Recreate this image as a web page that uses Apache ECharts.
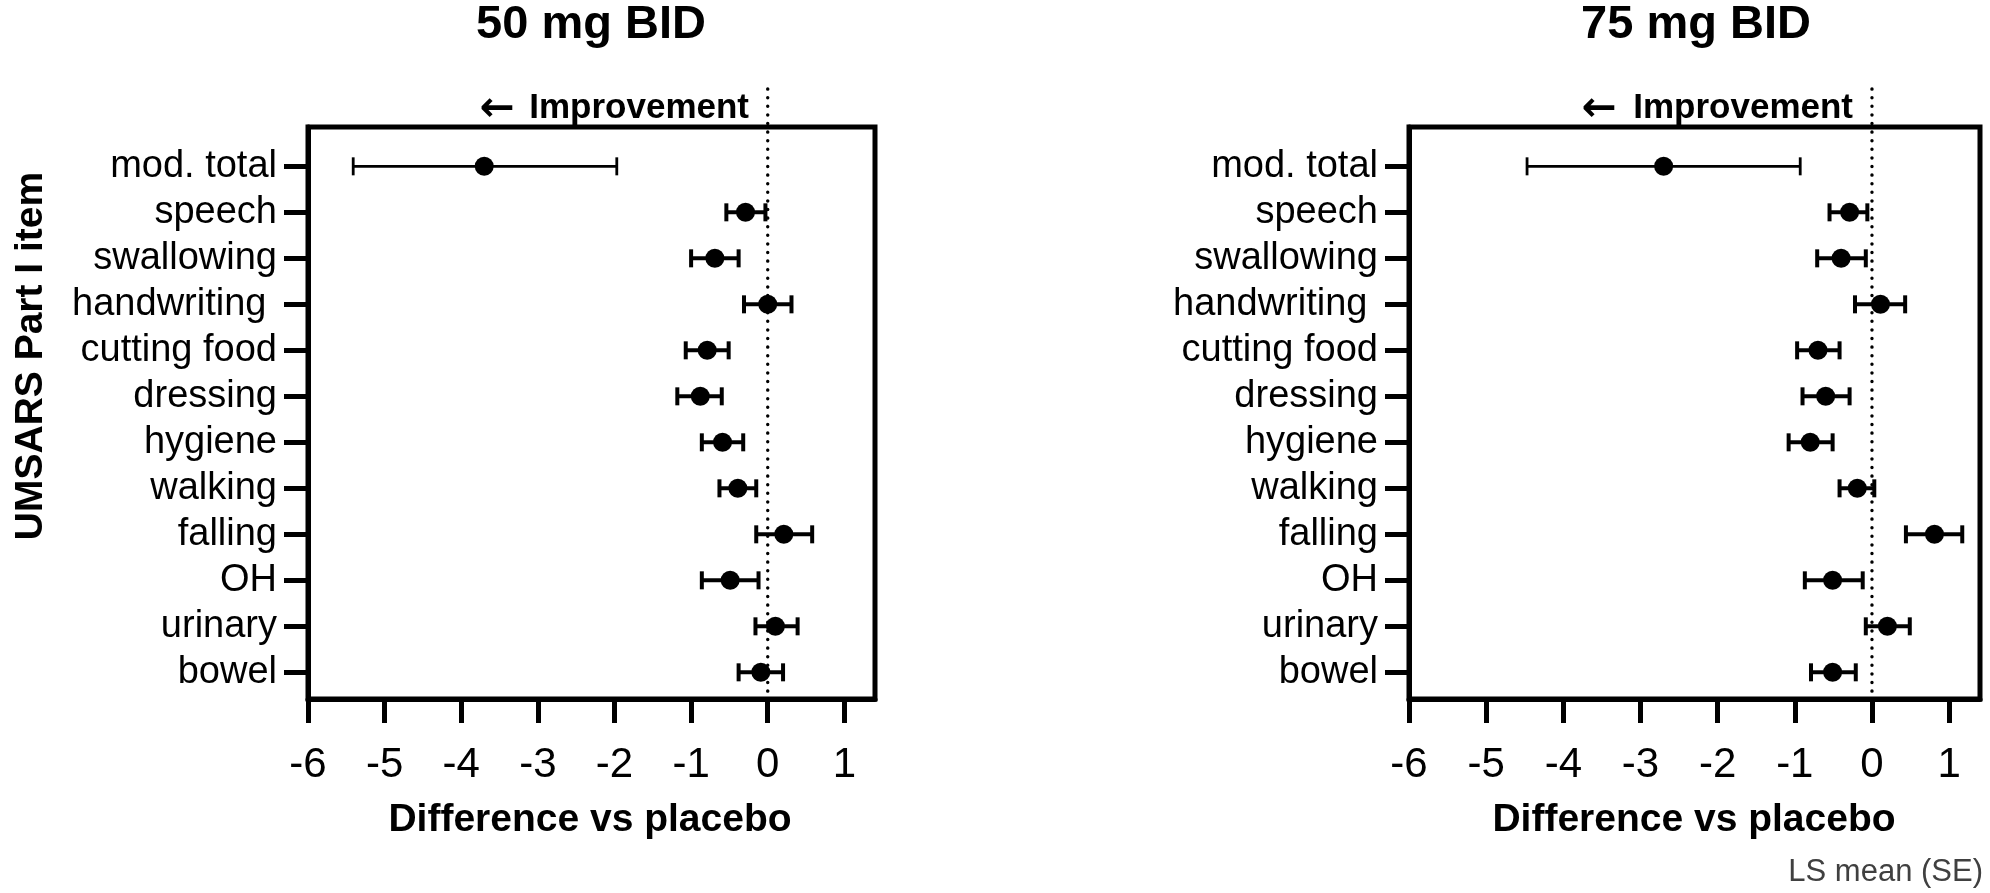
<!DOCTYPE html>
<html>
<head>
<meta charset="utf-8">
<script src="https://cdn.jsdelivr.net/npm/echarts@6/dist/echarts.min.js"></script>
<style>
html,body{margin:0;padding:0;background:#fff;}
#chart{width:1990px;height:893px;}
</style>
</head>
<body>
<div id="chart"></div>
<script>
// ---- data ----
const items = ['mod. total','speech','swallowing','handwriting ','cutting food','dressing','hygiene','walking','falling','OH','urinary','bowel'];
const mean50 = [-3.70,-0.29,-0.69,0.00,-0.79,-0.88,-0.59,-0.39,0.21,-0.49,0.10,-0.09];
const low50  = [-5.41,-0.54,-1.00,-0.31,-1.07,-1.18,-0.86,-0.63,-0.15,-0.86,-0.16,-0.38];
const high50 = [-1.97,-0.03,-0.38,0.31,-0.51,-0.60,-0.32,-0.15,0.58,-0.12,0.39,0.20];
const mean75 = [-2.70,-0.29,-0.40,0.11,-0.70,-0.60,-0.80,-0.19,0.81,-0.51,0.20,-0.51];
const low75  = [-4.47,-0.55,-0.71,-0.22,-0.97,-0.90,-1.08,-0.42,0.44,-0.87,-0.08,-0.79];
const high75 = [-0.93,-0.06,-0.08,0.43,-0.42,-0.29,-0.51,0.03,1.17,-0.12,0.49,-0.21];
const xTicks = [-6,-5,-4,-3,-2,-1,0,1];
const panelTitles = ['50 mg BID','75 mg BID'];

const FONT = '"Liberation Sans", Arial, Helvetica, sans-serif';
const Y_MIN = -0.855, Y_MAX = 11.58, LINE_TOP = -1.68;
const rowIdx = items.map((_, i) => i);

function build(mean, lo, hi){ return items.map((_, i) => [i, mean[i], lo[i], hi[i]]); }

function xAxisOpt(gi){
  return {
    type:'value', gridIndex:gi, min:-6, max:1.4,
    axisLine:{show:true, onZero:false, lineStyle:{color:'#000', width:5}},
    axisTick:{show:true, length:24, lineStyle:{color:'#000', width:5}, customValues:xTicks},
    axisLabel:{show:true, color:'#000', fontSize:42, fontFamily:FONT, margin:45, customValues:xTicks,
      formatter: v => String(v)},
    splitLine:{show:false}
  };
}
function yAxisOpt(gi){
  return {
    type:'value', gridIndex:gi, inverse:true, min:Y_MIN, max:Y_MAX,
    axisLine:{show:true, onZero:false, lineStyle:{color:'#000', width:5}},
    axisTick:{show:true, length:24, lineStyle:{color:'#000', width:5}, customValues:rowIdx},
    axisLabel:{show:true, color:'#000', fontSize:38, fontFamily:FONT, margin:31, customValues:rowIdx,
      formatter: v => items[Math.round(v)]},
    splitLine:{show:false}
  };
}

function errSeries(gi, data){
  return {
    type:'custom', xAxisIndex:gi, yAxisIndex:gi, z:3, clip:false,
    encode:{x:[1,2,3], y:0},
    data:data,
    renderItem(params, api){
      const y = api.value(0);
      const pm = api.coord([api.value(1), y]);
      const pl = api.coord([api.value(2), y]);
      const ph = api.coord([api.value(3), y]);
      const lw = y === 0 ? 2.8 : 4;
      const cap = 9;
      const st = {stroke:'#000', lineWidth:lw};
      return {type:'group', children:[
        {type:'line', shape:{x1:pl[0], y1:pl[1], x2:ph[0], y2:ph[1]}, style:st},
        {type:'line', shape:{x1:pl[0], y1:pl[1]-cap, x2:pl[0], y2:pl[1]+cap}, style:st},
        {type:'line', shape:{x1:ph[0], y1:ph[1]-cap, x2:ph[0], y2:ph[1]+cap}, style:st},
        {type:'circle', shape:{cx:pm[0], cy:pm[1], r:9.5}, style:{fill:'#000'}}
      ]};
    }
  };
}
function zeroSeries(gi){
  return {
    type:'custom', xAxisIndex:gi, yAxisIndex:gi, z:2, clip:false, silent:true,
    data:[[0]],
    encode:{x:0},
    renderItem(params, api){
      const a = api.coord([0, LINE_TOP]);
      const b = api.coord([0, Y_MAX]);
      return {type:'line', shape:{x1:a[0], y1:a[1], x2:b[0], y2:b[1]},
        style:{stroke:'#000', lineWidth:3.4, lineDash:[0.1, 8.5], lineCap:'round'}};
    }
  };
}

const chart = echarts.init(document.getElementById('chart'), null, {renderer:'canvas'});
const txt = (x, y, text, o) => Object.assign({type:'text', x:x, y:y,
  style:Object.assign({text:text, fill:'#000', fontFamily:FONT, align:'center', verticalAlign:'middle'}, o||{})});
const ARROW_FONT = '"DejaVu Sans", sans-serif';

chart.setOption({
  backgroundColor:'#fff',
  animation:false,
  grid:[
    {left:308, top:127, width:567, height:572, show:true, borderColor:'#000', borderWidth:5, containLabel:false},
    {left:1409, top:127, width:571, height:572, show:true, borderColor:'#000', borderWidth:5, containLabel:false}
  ],
  xAxis:[xAxisOpt(0), xAxisOpt(1)],
  yAxis:[yAxisOpt(0), yAxisOpt(1)],
  series:[zeroSeries(0), errSeries(0, build(mean50, low50, high50)),
          zeroSeries(1), errSeries(1, build(mean75, low75, high75))],
  graphic:[
    txt(591, 25, panelTitles[0], {fontSize:47, fontWeight:'bold'}),
    txt(1696, 25, panelTitles[1], {fontSize:47, fontWeight:'bold'}),
    txt(497, 110, '\u2190', {fontSize:42, fontWeight:'bold', fontFamily:ARROW_FONT}),
    txt(749, 108, 'Improvement', {fontSize:35, fontWeight:'bold', align:'right'}),
    txt(1599, 110, '\u2190', {fontSize:42, fontWeight:'bold', fontFamily:ARROW_FONT}),
    txt(1853, 108, 'Improvement', {fontSize:35, fontWeight:'bold', align:'right'}),
    txt(590, 820, 'Difference vs placebo', {fontSize:39, fontWeight:'bold'}),
    txt(1694, 820, 'Difference vs placebo', {fontSize:39, fontWeight:'bold'}),
    Object.assign(txt(31, 356, 'UMSARS Part I item', {fontSize:39, fontWeight:'bold'}), {rotation:Math.PI/2}),
    txt(1983, 872, 'LS mean (SE)', {fontSize:31, fill:'#404040', align:'right'})
  ]
});
</script>
</body>
</html>
